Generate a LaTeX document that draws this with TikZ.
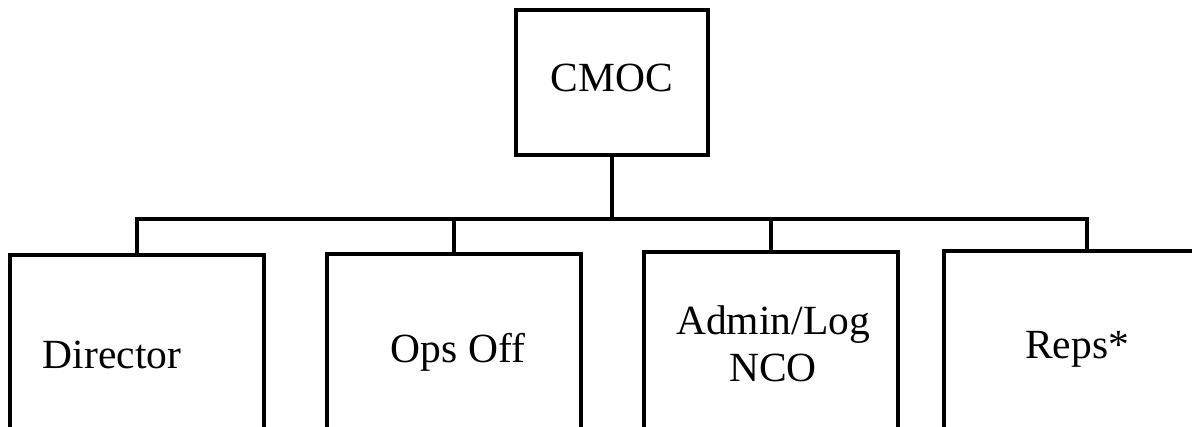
\documentclass[tikz,border=0pt]{standalone}
\usepackage{fontspec}
\setmainfont{Liberation Serif}
\begin{document}
\begin{tikzpicture}[x=0.5pt,y=-0.5pt,
  box/.style={draw=black, line width=1.7pt, fill=white, rectangle, inner sep=0pt},
  lbl/.style={font=\fontsize{20.75}{23.5}\selectfont, align=center, inner sep=0pt},
  conn/.style={draw=black, line width=1.7pt}]
\useasboundingbox (0,0) rectangle (1192,427);
\clip (0,0) rectangle (1192,427);
\node[box, minimum width=96pt, minimum height=72.5pt] (cmoc) at (612,82.5) {};
\node[lbl] (tcmoc) at (612,78) {CMOC};
\node[box, minimum width=127pt, minimum height=100pt] (dir) at (137,355) {};
\node[box, minimum width=127pt, minimum height=100pt] (ops) at (454,354) {};
\node[box, minimum width=127pt, minimum height=100pt] (adm) at (771,352) {};
\node[box, minimum width=127pt, minimum height=100pt] (reps) at (1071,351) {};
\node[lbl] (tdir) at (112,355) {Director};
\node[lbl] (tops) at (458,352) {Ops Off};
\node[lbl] (tadm) at (773,344) {Admin/Log\\NCO};
\node[lbl] (treps) at (1077,349) {Reps*};
\coordinate (bus) at (612,219);
\coordinate (repsdrop) at (1087,251);
\draw[conn] (cmoc.south) -- (bus);
\draw[conn] (dir.north) |- (bus) -| (repsdrop);
\draw[conn] (ops.north) -- (ops.north |- bus);
\draw[conn] (adm.north) -- (adm.north |- bus);
\end{tikzpicture}
\end{document}
